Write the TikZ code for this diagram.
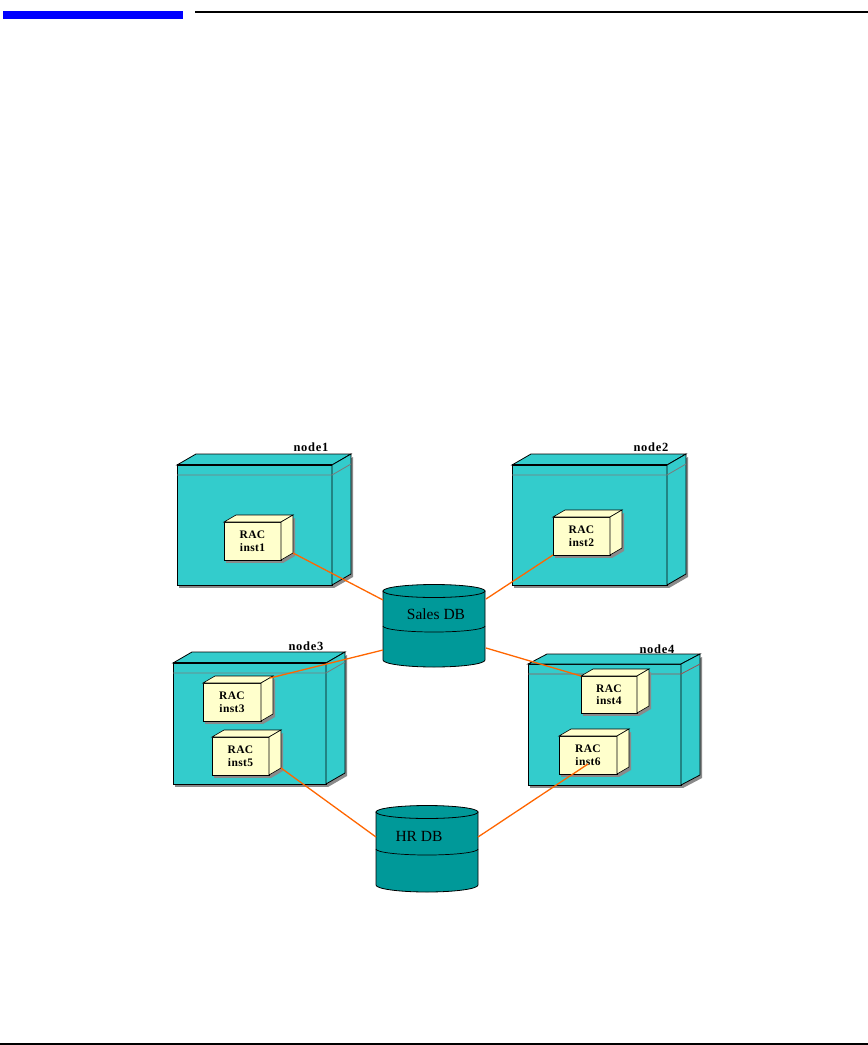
\documentclass[tikz,border=0pt]{standalone}
\usepackage{fontspec}
\setmainfont{Liberation Serif}
\newfontfamily\lblfont[LetterSpace=6]{Liberation Serif}
\newfontfamily\racfont[LetterSpace=3]{Liberation Serif}
\definecolor{nodecyan}{HTML}{33CCCC}
\definecolor{racyellow}{HTML}{FFFFCC}
\definecolor{dbteal}{HTML}{009999}
\definecolor{linkorange}{HTML}{FF6600}
\definecolor{shadowgray}{HTML}{8A8A8A}
\definecolor{innergray}{HTML}{7A7A7A}
\definecolor{innerred}{HTML}{9A5050}
\definecolor{hdrblue}{HTML}{0000FF}
% #1 name, #2 x, #3 y, #4 w, #5 h, #6 dx, #7 dy (up), #8 style, #9 text
\newcommand\boxthree[9]{%
  \fill[shadowgray, shift={(2,3)}] (#2,#3) rectangle ++(#4,#5);
  \fill[shadowgray, shift={(2,3)}] (#2+#4,#3+#5) -- ++(#6,-#7) -- ++(0,-#5) -- ++(-#6,#7) -- cycle;
  \node[#8, minimum width=#4, minimum height=#5, inner sep=0pt, outer sep=0pt, anchor=north west] (#1) at (#2,#3) {#9};
  \draw[#8] (#1.north west) -- ++(#6,-#7) -- ++(#4,0) -- (#1.north east) -- cycle;
  \draw[#8] (#1.north east) -- ++(#6,-#7) -- ++(0,#5) -- (#1.south east) -- cycle;
}
% #1 name, #2 cx, #3 ytop, #4 ybot, #5 ymid
\newcommand\dbcyl[5]{%
  \path[dbface] (#2-51,#3) -- (#2-51,#4) arc[start angle=180,end angle=0,x radius=51,y radius=7] -- (#2+51,#3) -- cycle;
  \draw[dbface] (#2,#3) ellipse[x radius=51,y radius=6.5];
  \draw[line width=0.7pt] (#2-51,#5) arc[start angle=180,end angle=0,x radius=51,y radius=6];
  \node[minimum width=102, minimum height=#4-#3, inner sep=0pt, outer sep=0pt, anchor=north] (#1) at (#2,#3) {};
}
\begin{document}
\begin{tikzpicture}[x=1pt,y=-1pt,
  nodeface/.style={draw=black, line width=0.8pt, fill=nodecyan},
  racface/.style={draw=black, line width=0.6pt, fill=racyellow, align=center,
                  font=\fontsize{11.5}{12.5}\racfont\bfseries},
  dbface/.style={draw=black, line width=0.8pt, fill=dbteal},
  nodelabel/.style={font=\fontsize{12.5}{12.5}\lblfont\bfseries, inner sep=0pt},
  dblabel/.style={font=\fontsize{15.5}{15.5}\selectfont, inner sep=0pt},
  link/.style={draw=linkorange, line width=1.3pt},
  innerline/.style={draw=innergray, line width=0.8pt},
  topedge/.style={draw=black, line width=1.8pt}]
\useasboundingbox (0,0) rectangle (868,1045);
\fill[white] (0,0) rectangle (868,1045);
% header and footer rules
\fill[hdrblue] (3,11) rectangle (183,19);
\fill[black] (195,11) rectangle (868,13);
\fill[black] (0,1043) rectangle (868,1045);

% ---- node boxes ----
\boxthree{n1}{177}{465}{155}{120}{19}{11}{nodeface}{}
\draw[innerline] ([shift={(0,10)}]n1.north west) -- ([shift={(0,10)}]n1.north east) -- ++(19,-11);
\draw[topedge] (n1.north west) -- (n1.north east);
\node[nodelabel] (l1) at (311,447) {node1};

\boxthree{n2}{512}{465}{155}{120}{19}{11}{nodeface}{}
\draw[innerline] ([shift={(0,10)}]n2.north west) -- ([shift={(0,10)}]n2.north east) -- ++(19,-11);
\draw[topedge] (n2.north west) -- (n2.north east);
\node[nodelabel] (l2) at (651,447) {node2};

\boxthree{n3}{173}{663}{153}{121}{19}{11}{nodeface}{}
\draw[innerline] ([shift={(0,10)}]n3.north west) -- ([shift={(0,10)}]n3.north east) -- ++(19,-11);
\draw[topedge] (n3.north west) -- (n3.north east);
\node[nodelabel] (l3) at (306,646) {node3};

\boxthree{n4}{528}{664}{153}{121}{19}{10}{nodeface}{}
\draw[draw=innerred, line width=0.8pt] ([shift={(0,10)}]n4.north west) -- ([shift={(0,10)}]n4.north east) -- ++(19,-10);
\node[nodelabel] (l4) at (657,649) {node4};

% ---- RAC instance boxes ----
\boxthree{i1}{224}{522}{57}{38}{12}{7}{racface}{RAC\\inst1}
\boxthree{i2}{553}{517}{57}{38}{12}{7}{racface}{RAC\\inst2}
\boxthree{i3}{203}{683}{58}{38}{12}{7}{racface}{RAC\\inst3}
\boxthree{i5}{212}{737}{57}{38}{12}{7}{racface}{RAC\\inst5}
\boxthree{i4}{581}{676}{56}{37}{12}{7}{racface}{RAC\\inst4}
\boxthree{i6}{559}{736}{58}{38}{12}{7}{racface}{RAC\\inst6}

% ---- databases ----
\dbcyl{sales}{434}{591}{660}{626}
\node[dblabel] (salesl) at (436,614) {Sales DB};
\dbcyl{hr}{427}{812}{885}{849}
\node[dblabel] (hrl) at (419,836) {HR DB};

% ---- connector end points ----
\coordinate (i1c) at ([shift={(12,-7)}]i1.south east);
\coordinate (i3c) at ([shift={(9,-5)}]i3.north east);
\coordinate (i5c) at ([shift={(12,-7)}]i5.south east);
\coordinate (i6c) at ([shift={(0,9)}]i6.center);
\coordinate (s1) at ([shift={(0,9)}]sales.north west);
\coordinate (s2) at ([shift={(1,8)}]sales.north east);
\coordinate (s3) at ([shift={(0,-10)}]sales.south west);
\coordinate (s4) at ([shift={(1,-12)}]sales.south east);
\coordinate (h1) at ([shift={(0,25)}]hr.north west);
\coordinate (h2) at ([shift={(0,25)}]hr.north east);

% ---- connectors ----
\draw[link] (i1c) -- (s1);
\draw[link] (i2.south west) -- (s2);
\draw[link] (s3) -- (i3c);
\draw[link] (s4) -- (i4.north west);
\draw[link] (i5c) -- (h1);
\draw[link] (i6c) -- (h2);
\end{tikzpicture}
\end{document}
